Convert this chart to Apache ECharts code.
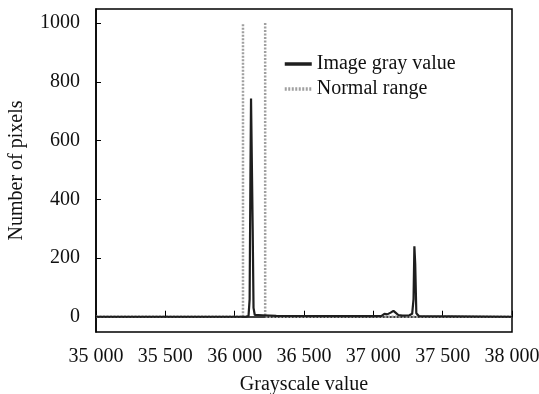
<!DOCTYPE html>
<html>
<head>
<meta charset="utf-8">
<script src="https://cdn.jsdelivr.net/npm/echarts@6/dist/echarts.min.js"></script>
<style>
  html, body { margin: 0; padding: 0; background: #fff; }
  #main { width: 539px; height: 394px; }
</style>
</head>
<body>
<div id="main"></div>
<script>
// grayscale histogram (x = gray value, y = pixel count)
const grayX = [35000, 36080, 36100, 36108, 36114, 36118, 36124, 36130, 36136, 36145, 36200, 36300,
  37000, 37060, 37080, 37100, 37125, 37145, 37160, 37180, 37210, 37260, 37280, 37290, 37296, 37302, 37310, 37330, 38000];
const grayY = [0, 0, 3, 60, 500, 743, 740, 300, 30, 6, 5, 3,
  2, 3, 10, 8, 14, 20, 14, 6, 4, 5, 10, 60, 240, 180, 12, 2, 0];

// normal range markers ('-' breaks the line so each bound is drawn once)
const rangeX = [35000, 36060, 36060, '-', 36220, 36220, 38000];
const rangeY = [0, 0, 1000, '-', 1000, 0, 0];

const xTicks = [35000, 35500, 36000, 36500, 37000, 37500, 38000];
const yTicks = [0, 200, 400, 600, 800, 1000];

const pairs = (xs, ys) => xs.map((x, i) => [x, ys[i]]);
const serif = 'Liberation Serif';

const chart = echarts.init(document.getElementById('main'));
chart.setOption({
  animation: false,
  grid: {
    left: 96, right: 27, top: 9, bottom: 62,
    outerBoundsMode: 'none',
    show: true, borderColor: '#000', borderWidth: 1.5
  },
  legend: {
    orient: 'vertical',
    left: 278, top: 49,
    itemWidth: 27, itemHeight: 14, itemGap: 5, itemTextGap: 6,
    itemStyle: { opacity: 0 },
    lineStyle: { width: 3.5 },
    textStyle: { fontFamily: serif, fontSize: 20, color: '#111' },
    data: ['Image gray value', 'Normal range']
  },
  xAxis: {
    type: 'value', min: 35000, max: 38000,
    name: 'Grayscale value', nameLocation: 'middle', nameGap: 43,
    nameTextStyle: { fontFamily: serif, fontSize: 20, color: '#111' },
    splitLine: { show: false },
    axisLine: { lineStyle: { color: '#000', width: 1.5 } },
    axisTick: { inside: true, length: 6, customValues: xTicks, lineStyle: { color: '#000' } },
    axisLabel: {
      customValues: xTicks, margin: 15,
      fontFamily: serif, fontSize: 20, color: '#111',
      formatter: v => String(v).replace(/(\d{2})(\d{3})$/, '$1 $2')
    }
  },
  yAxis: {
    type: 'value', min: -52, max: 1048,
    name: 'Number of pixels', nameLocation: 'middle', nameGap: 69,
    nameTextStyle: { fontFamily: serif, fontSize: 20, color: '#111' },
    splitLine: { show: false },
    axisLine: { lineStyle: { color: '#000', width: 1.5 } },
    axisTick: { inside: true, length: 5, customValues: yTicks, lineStyle: { color: '#000' } },
    axisLabel: {
      customValues: yTicks, margin: 16,
      fontFamily: serif, fontSize: 20, color: '#111',
      formatter: v => String(v)
    }
  },
  series: [
    {
      name: 'Normal range', type: 'line', symbol: 'none',
      data: pairs(rangeX, rangeY),
      lineStyle: { color: '#a0a0a0', width: 2.5, type: [2, 1.5] },
      itemStyle: { color: '#a0a0a0' },
      z: 1
    },
    {
      name: 'Image gray value', type: 'line', symbol: 'none',
      data: pairs(grayX, grayY),
      lineStyle: { color: '#1e1e1e', width: 2.2 },
      itemStyle: { color: '#444' },
      z: 2
    }
  ]
});
</script>
</body>
</html>
